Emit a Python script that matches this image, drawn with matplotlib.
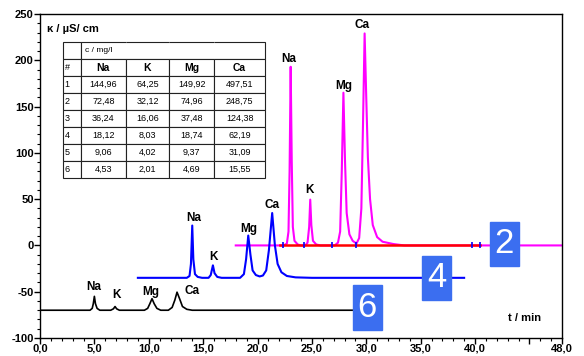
import numpy as np
import matplotlib
matplotlib.use("Agg")
import matplotlib.pyplot as plt
from matplotlib.patches import Rectangle

plt.rcParams['font.family'] = ['Liberation Sans', 'DejaVu Sans']
plt.rcParams['axes.unicode_minus'] = False

# chromatogram 6 (black)
t6 = [0.0, 4.6, 4.8, 4.9, 5.0, 5.1, 5.25, 5.5, 6.5, 6.75, 6.9, 7.05, 7.3,
      9.6, 9.9, 10.1, 10.3, 10.5, 10.75, 11.1, 11.8, 12.15, 12.4, 12.6,
      12.85, 13.1, 13.5, 14.0, 29.5]
k6 = [-70, -70, -68, -63, -55, -63, -68, -70, -70, -68.5, -66, -68.5, -70,
      -70, -68, -63, -57.5, -63, -68, -70, -70, -67, -59, -50.5,
      -58, -66, -69, -70, -70]

# chromatogram 4 (blue)
t4 = [9.0, 13.5, 13.75, 13.88, 14.0, 14.1, 14.25, 14.5, 14.9, 15.5, 15.7,
      15.9, 16.05, 16.3, 16.7, 18.4, 18.75, 18.95, 19.15, 19.35, 19.55,
      19.85, 20.2, 20.5, 20.8, 21.05, 21.35, 21.6, 21.85, 22.2, 22.7,
      23.5, 25.0, 39.0]
k4 = [-35, -35, -33, -20, 21.5, -15, -31, -34, -35, -35, -32,
      -21.5, -30, -34, -35, -35, -31, -15, 10.7, -10, -27,
      -32, -33.5, -32.5, -27, -5, 35, 0, -20, -29, -33,
      -34.5, -35, -35]

# chromatogram 2 (magenta)
t2 = [18.0, 22.4, 22.7, 22.85, 22.95, 23.05, 23.15, 23.25, 23.4, 23.7, 24.0,
      24.4, 24.6, 24.75, 24.85, 24.95, 25.1, 25.4, 25.8, 27.1, 27.4, 27.6,
      27.75, 27.9, 28.05, 28.2, 28.45, 28.75, 29.1, 29.35, 29.55, 29.7,
      29.85, 30.0, 30.15, 30.35, 30.6, 31.0, 31.5, 32.5, 33.5, 48.0]
k2 = [0, 0, 2, 15, 80, 193, 90, 20, 5, 1, 0,
      0, 3, 20, 49.5, 22, 5, 1, 0, 0, 3, 15,
      80, 165, 90, 35, 12, 5, 2, 8, 40, 130,
      229, 160, 95, 50, 22, 9, 4, 1.5, 0, 0]

# integration baseline (red) and its marks
base_t = [22.1, 40.5]
base_k = [0, 0]
mark_t = [22.3, 24.3, 26.85, 29.1, 39.7, 40.45]

ions = ['Na', 'K', 'Mg', 'Ca']
lab6_t = [4.95, 7.0, 10.2, 13.95]
lab6_k = [-45, -54, -50, -49]
lab4_t = [14.1, 16.0, 19.15, 21.35]
lab4_k = [30, -13, 18, 44]
lab2_t = [22.9, 24.8, 27.9, 29.6]
lab2_k = [201, 60, 172, 238]

box_text = ['2', '4', '6']
box_t = [42.7, 36.45, 30.1]
box_k = [1.6, -35, -67]

table_rows = [
    ['1', '144,96', '64,25', '149,92', '497,51'],
    ['2', '72,48', '32,12', '74,96', '248,75'],
    ['3', '36,24', '16,06', '37,48', '124,38'],
    ['4', '18,12', '8,03', '18,74', '62,19'],
    ['5', '9,06', '4,02', '9,37', '31,09'],
    ['6', '4,53', '2,01', '4,69', '15,55'],
]

fig = plt.figure(figsize=(5.84, 3.56), dpi=100)
ax = fig.add_axes([40 / 584, 18 / 356, 522 / 584, 324 / 356])

ax.plot(t2, k2, color='#ff00ff', lw=1.5, zorder=2)
ax.plot(base_t, base_k, color='#ff0000', lw=1.8, zorder=3)
ax.plot(mark_t, [0] * len(mark_t), ls='none', marker='|', ms=4, mew=1.2,
        color='#0000ff', zorder=4)
ax.plot(t4, k4, color='#0000ff', lw=1.5, zorder=3)
ax.plot(t6, k6, color='black', lw=1.2, zorder=3)

for labs_t, labs_k in [(lab6_t, lab6_k), (lab4_t, lab4_k), (lab2_t, lab2_k)]:
    for name, x, y in zip(ions, labs_t, labs_k):
        ax.text(x, y, name, ha='center', va='center', fontsize=8.5,
                fontweight='bold', zorder=5)

for s, x, y in zip(box_text, box_t, box_k):
    ax.add_patch(Rectangle((x - 1.32, y - 24), 2.64, 48, color='#3b6ef0',
                           zorder=6))
    ax.text(x, y, s, ha='center', va='center', fontsize=25, color='white',
            zorder=7)

ax.set_xlim(0, 48)
ax.set_ylim(-100, 250)
xt = [0, 5, 10, 15, 20, 25, 30, 35, 40, 45, 48]
ax.set_xticks(xt)
ax.set_xticklabels([f"{v:.1f}".replace('.', ',') if v != 45 else '' for v in xt])
ax.set_xticks(np.arange(0, 49, 1), minor=True)
ax.set_yticks(np.arange(-100, 251, 50))
ax.set_yticks(np.arange(-100, 251, 10), minor=True)
ax.tick_params(which='major', direction='out', length=4, width=1, pad=0.5,
               labelsize=8)
ax.tick_params(axis='x', which='major', pad=0)
ax.tick_params(which='minor', direction='out', length=2, width=0.8)
for lbl in ax.get_xticklabels() + ax.get_yticklabels():
    lbl.set_fontweight('bold')
for sp in ax.spines.values():
    sp.set_linewidth(1)

ax.text(0.013, 0.954, 'κ / µS/ cm', transform=ax.transAxes, fontsize=8,
        fontweight='bold', va='center', ha='left')
ax.text(0.929, 0.061, 't / min', transform=ax.transAxes, fontsize=8,
        fontweight='bold', va='center', ha='center')

cells = [['', 'c / mg/l', '', '', ''], ['#'] + ions] + table_rows
col_w = [18.3, 44.7, 43.6, 45.0, 50.7]
tot = sum(col_w)
x0, x1 = 0.0435, 0.431
tab = ax.table(cellText=cells, colWidths=[w / tot * (x1 - x0) for w in col_w],
               bbox=[x0, 0.494, x1 - x0, 0.913 - 0.494], cellLoc='center',
               zorder=8)
tab.auto_set_font_size(False)
for (r, c), cell in tab.get_celld().items():
    cell.set_linewidth(0.8)
    cell.set_edgecolor('#222222')
    cell.set_facecolor('white')
    txt = cell.get_text()
    txt.set_fontsize(6.5)
    if c == 0:
        cell._loc = 'left'
        txt.set_ha('left')
    if r == 1 and c > 0:
        txt.set_fontweight('bold')
        txt.set_fontsize(7.5)
    if r == 0:
        if c == 1:
            cell.visible_edges = 'LTB'
            txt.set_ha('left')
            cell._loc = 'left'
            txt.set_fontsize(6)
        elif c in (2, 3):
            cell.visible_edges = 'TB'
        elif c == 4:
            cell.visible_edges = 'TBR'

fig.savefig('out.png', dpi=100)
